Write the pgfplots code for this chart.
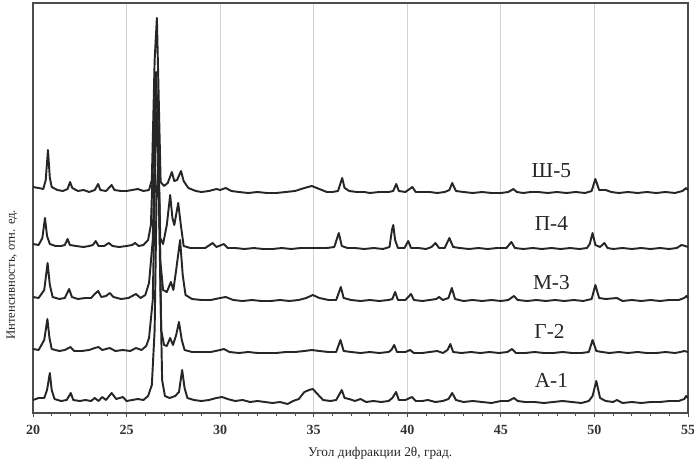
\documentclass[border=0pt]{standalone}
\usepackage{fontspec}
\setmainfont{Liberation Serif}
\usepackage{pgfplots}
\pgfplotsset{compat=1.18}

\begin{document}
\begin{tikzpicture}
\begin{axis}[
    name=ax,
    scale only axis,
    width=491.25pt,
    height=307.5pt,
    xmin=20, xmax=55,
    ymin=51, ymax=461,
    xtick={20,25,...,55},
    minor x tick num=4,
    ytick=\empty,
    tick align=outside,
    xtick pos=bottom,
    major tick length=3pt,
    minor tick length=2.5pt,
    xmajorgrids,
    grid style={gray!35, line width=0.9pt},
    axis line style={black!70, line width=0.8pt},
    every tick/.style={black!70, line width=0.7pt},
    /pgf/number format/assume math mode=true,
    ticklabel style={font=\fontsize{10.5}{12}\selectfont\bfseries, text=black!80},
    xticklabel style={yshift=-2.5pt},
    xlabel={Угол дифракции 2θ, град.},
    ylabel={Интенсивность, отн. ед.},
    xlabel style={font=\fontsize{10}{12}\selectfont, text=black!85, at={(rel axis cs:0.53,0)}, anchor=center, yshift=-30pt},
    ylabel style={font=\fontsize{9.5}{11}\selectfont, text=black!85, at={(rel axis cs:0,0.337)}, anchor=center, yshift=15.75pt},
    trace/.style={black!85, line width=1.45pt, line join=round},
    clip=false,
]
% Ш-5
\addplot[trace] coordinates {
(20.0,277) (20.3,276) (20.55,275) (20.68,284) (20.8,314) (20.9,286) (21.0,277) (21.3,274) (21.6,273)
(21.85,275) (21.98,282) (22.1,276) (22.4,273) (22.7,274) (23.0,272) (23.3,274) (23.48,280) (23.6,274)
(23.9,273) (24.2,279) (24.35,274) (24.7,273) (25.0,273) (25.3,274) (25.6,275) (25.9,273) (26.2,274)
(26.35,284) (26.5,404) (26.62,446) (26.72,364) (26.82,282) (27.0,278) (27.2,281) (27.42,292) (27.55,283)
(27.7,284) (27.91,293) (28.05,283) (28.3,276) (28.7,273) (29.0,272) (29.4,273) (29.8,275) (30.0,274)
(30.3,276) (30.6,273) (31.0,272) (31.5,271) (32.0,272) (32.5,271) (33.0,271) (33.5,272) (34.0,273)
(34.5,276) (34.9,278) (35.3,275) (35.7,272) (36.0,272) (36.3,273) (36.52,286) (36.65,276) (36.9,273)
(37.3,272) (37.7,272) (38.0,271) (38.5,272) (39.0,272) (39.25,273) (39.41,280) (39.55,273) (39.9,272)
(40.27,277) (40.45,272) (40.8,272) (41.2,272) (41.6,271) (42.0,272) (42.25,274) (42.4,281) (42.6,273)
(43.0,272) (43.5,271) (44.0,272) (44.5,271) (45.0,271) (45.4,272) (45.67,275) (45.85,272) (46.2,271)
(46.6,272) (47.0,272) (47.5,271) (48.0,272) (48.5,271) (49.0,272) (49.5,271) (49.85,273) (50.05,285)
(50.25,274) (50.6,274) (50.9,272) (51.3,271) (51.8,272) (52.3,271) (52.8,272) (53.3,271) (53.8,272)
(54.3,271) (54.7,273) (54.9,276) (55.0,274)
};
% П-4
\addplot[trace] coordinates {
(20.0,220) (20.3,219) (20.5,226) (20.64,246) (20.75,228) (20.9,220) (21.2,218) (21.5,218) (21.7,219)
(21.85,225) (21.97,219) (22.3,218) (22.7,217) (23.0,218) (23.2,219) (23.35,223) (23.5,218) (23.8,218)
(24.05,221) (24.25,218) (24.6,217) (25.0,218) (25.3,219) (25.45,221) (25.65,218) (25.9,219) (26.15,224)
(26.3,239) (26.45,324) (26.58,392) (26.7,314) (26.8,226) (26.95,220) (27.15,239) (27.33,269) (27.45,246)
(27.55,239) (27.76,261) (27.9,239) (28.05,218) (28.4,216) (28.8,216) (29.2,216) (29.6,221) (29.8,217)
(30.2,220) (30.4,216) (30.8,216) (31.3,215) (31.8,216) (32.3,215) (32.8,215) (33.3,216) (33.8,215)
(34.3,216) (34.8,216) (35.2,216) (35.7,216) (36.1,217) (36.34,231) (36.5,218) (36.8,216) (37.2,216)
(37.7,215) (38.2,216) (38.7,215) (39.05,217) (39.18,234) (39.25,239) (39.35,224) (39.5,216) (39.85,216)
(40.05,223) (40.2,216) (40.6,216) (41.0,215) (41.3,217) (41.5,221) (41.7,216) (42.0,216) (42.25,226)
(42.45,217) (42.8,216) (43.3,215) (43.8,216) (44.3,215) (44.8,216) (45.3,216) (45.56,222) (45.75,216)
(46.2,215) (46.7,216) (47.2,215) (47.7,216) (48.2,215) (48.7,216) (49.2,215) (49.6,216) (49.75,220)
(49.9,231) (50.05,219) (50.3,217) (50.53,221) (50.7,216) (51.0,215) (51.5,216) (52.0,215) (52.5,216)
(53.0,215) (53.5,216) (54.0,215) (54.4,216) (54.65,219) (54.85,218) (55.0,217)
};
% М-3
\addplot[trace] coordinates {
(20.0,167) (20.3,166) (20.6,174) (20.78,201) (20.9,179) (21.05,167) (21.4,165) (21.7,166) (21.93,175)
(22.08,167) (22.4,165) (22.8,166) (23.1,166) (23.3,170) (23.48,173) (23.65,167) (23.9,168) (24.1,171)
(24.3,167) (24.7,165) (25.1,166) (25.5,170) (25.75,166) (26.0,169) (26.2,181) (26.4,224) (26.55,354)
(26.68,329) (26.8,204) (26.95,174) (27.15,172) (27.37,182) (27.5,174) (27.65,194) (27.86,224) (28.0,189)
(28.15,169) (28.5,165) (29.0,164) (29.5,164) (30.0,166) (30.3,167) (30.7,164) (31.2,163) (31.7,164)
(32.2,163) (32.7,163) (33.2,164) (33.7,163) (34.2,164) (34.6,166) (34.95,169) (35.3,166) (35.8,164)
(36.2,164) (36.45,177) (36.6,166) (37.0,164) (37.5,163) (38.0,164) (38.5,163) (39.0,164) (39.2,165)
(39.35,172) (39.5,164) (39.9,164) (40.2,170) (40.35,164) (40.8,163) (41.2,164) (41.55,165) (41.7,167)
(41.9,164) (42.2,166) (42.38,176) (42.55,165) (43.0,163) (43.5,164) (44.0,163) (44.5,164) (45.0,163)
(45.4,164) (45.7,168) (45.9,164) (46.4,163) (46.9,164) (47.4,163) (47.9,164) (48.4,163) (48.9,164)
(49.4,163) (49.85,165) (50.05,179) (50.25,166) (50.6,165) (51.2,166) (51.5,163) (52.0,164) (52.5,163)
(53.0,164) (53.5,163) (54.0,164) (54.5,164) (54.8,166) (54.92,168) (55.0,166)
};
% Г-2
\addplot[trace] coordinates {
(20.0,115) (20.3,114) (20.6,124) (20.77,145) (20.88,126) (21.0,115) (21.4,113) (21.7,114) (22.0,117)
(22.2,113) (22.6,113) (23.0,114) (23.3,116) (23.5,117) (23.7,114) (24.1,116) (24.4,113) (24.8,114)
(25.2,113) (25.5,116) (25.8,114) (26.05,118) (26.2,126) (26.4,164) (26.55,314) (26.65,344) (26.75,264)
(26.85,134) (27.0,119) (27.15,118) (27.33,126) (27.48,119) (27.65,129) (27.8,142) (27.95,124) (28.1,114)
(28.5,112) (29.0,112) (29.5,112) (30.0,114) (30.2,115) (30.5,112) (31.0,111) (31.5,112) (32.0,111)
(32.5,111) (33.0,111) (33.5,112) (34.0,112) (34.5,113) (34.9,114) (35.3,113) (35.8,112) (36.2,112)
(36.43,124) (36.6,113) (37.0,112) (37.5,111) (38.0,112) (38.5,111) (39.0,112) (39.15,114) (39.3,119)
(39.45,112) (39.9,112) (40.15,114) (40.35,111) (40.8,111) (41.2,112) (41.6,113) (41.9,111) (42.15,114)
(42.3,120) (42.45,112) (42.9,111) (43.4,112) (43.9,111) (44.4,112) (44.9,111) (45.35,112) (45.6,115)
(45.8,111) (46.3,111) (46.8,112) (47.3,111) (47.8,111) (48.3,112) (48.8,111) (49.3,111) (49.7,112)
(49.9,124) (50.1,113) (50.4,112) (50.8,111) (51.3,112) (51.8,111) (52.3,112) (52.8,111) (53.3,111)
(53.8,112) (54.3,111) (54.6,112) (54.8,113) (55.0,112)
};
% А-1
\addplot[trace] coordinates {
(20.0,64) (20.3,66) (20.6,66) (20.75,74) (20.9,91) (21.0,74) (21.15,65) (21.5,63) (21.8,64) (22.02,71)
(22.15,64) (22.5,63) (22.8,64) (23.1,63) (23.3,66) (23.5,63) (23.7,67) (23.9,64) (24.2,71) (24.45,65)
(24.8,67) (25.0,63) (25.3,64) (25.6,65) (25.9,64) (26.15,68) (26.35,79) (26.5,134) (26.6,264) (26.7,304)
(26.8,184) (26.9,84) (27.05,68) (27.3,66) (27.6,68) (27.8,72) (27.97,94) (28.1,76) (28.25,66) (28.6,64)
(29.0,63) (29.4,64) (29.8,66) (30.1,67) (30.4,65) (30.8,63) (31.2,64) (31.6,62) (32.0,63) (32.4,62)
(32.8,61) (33.2,62) (33.6,60) (33.9,63) (34.2,65) (34.5,72) (34.75,74) (34.95,75) (35.2,70) (35.5,64)
(35.9,63) (36.2,64) (36.5,74) (36.65,66) (36.9,65) (37.2,63) (37.5,65) (37.8,62) (38.2,63) (38.6,62)
(39.0,63) (39.2,66) (39.4,72) (39.55,64) (39.9,64) (40.25,67) (40.45,63) (40.8,63) (41.1,64) (41.5,62)
(41.9,63) (42.2,65) (42.4,71) (42.6,64) (43.0,62) (43.5,63) (44.0,62) (44.5,61) (45.0,63) (45.4,63)
(45.7,66) (45.9,63) (46.3,62) (46.8,62) (47.3,61) (47.8,62) (48.3,63) (48.8,62) (49.3,61) (49.7,63)
(49.9,68) (50.1,83) (50.3,66) (50.6,63) (51.0,62) (51.2,64) (51.5,61) (52.0,62) (52.5,61) (53.0,62)
(53.5,62) (54.0,63) (54.5,63) (54.8,65) (54.9,68) (55.0,66)
};
\node[font=\fontsize{16}{18}\selectfont, text=black!85] at (axis cs:47.7,293) {Ш-5};
\node[font=\fontsize{16}{18}\selectfont, text=black!85] at (axis cs:47.7,241) {П-4};
\node[font=\fontsize{16}{18}\selectfont, text=black!85] at (axis cs:47.7,181) {М-3};
\node[font=\fontsize{16}{18}\selectfont, text=black!85] at (axis cs:47.6,133) {Г-2};
\node[font=\fontsize{16}{18}\selectfont, text=black!85] at (axis cs:47.7,84) {А-1};
\end{axis}
\pgfresetboundingbox
\path ([shift={(-24.75pt,-38.25pt)}]ax.south west) rectangle ([shift={(4.5pt,2.25pt)}]ax.north east);
\end{tikzpicture}
\end{document}
